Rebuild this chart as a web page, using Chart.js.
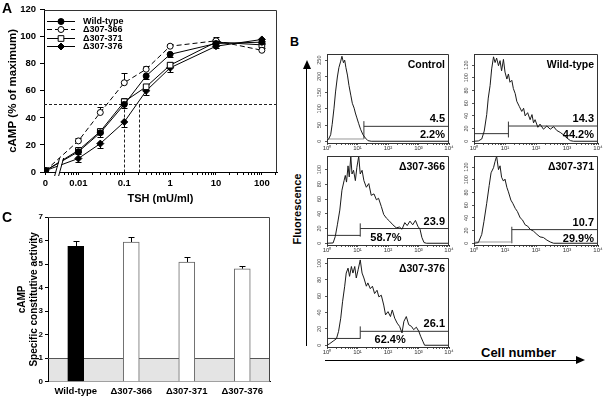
<!DOCTYPE html>
<html>
<head>
<meta charset="utf-8">
<script src="https://cdn.jsdelivr.net/npm/chart.js@4.4.1/dist/chart.umd.min.js"></script>
<style>
html,body{margin:0;padding:0;background:#fff;}
#fig{position:relative;width:603px;height:400px;overflow:hidden;font-family:"Liberation Sans",Arial,sans-serif;}
#fig canvas{position:absolute;}
.lbl{position:absolute;font-weight:bold;color:#000;white-space:nowrap;line-height:1;}
.ln{position:absolute;background:#000;}
</style>
</head>
<body>
<div id="fig">
  <canvas id="chartA" width="285" height="207" style="left:0;top:0"></canvas>
  <canvas id="hCtrl"></canvas>
  <canvas id="hWt"></canvas>
  <canvas id="h366"></canvas>
  <canvas id="h371"></canvas>
  <canvas id="h376"></canvas>

  <div class="lbl" style="left:2px;top:1px;font-size:14px">A</div>
  <div class="lbl" style="left:290px;top:36px;font-size:12.5px">B</div>

  <div class="ln" style="left:306px;top:68px;width:1px;height:278px"></div>
  <div style="position:absolute;left:302.5px;top:60px;width:0;height:0;border-left:4px solid transparent;border-right:4px solid transparent;border-bottom:9px solid #000"></div>
  <div class="lbl" style="left:296.5px;top:209px;font-size:11px;transform:translate(-50%,-50%) rotate(-90deg)">Fluorescence</div>

  <div class="ln" style="left:325px;top:360px;width:252px;height:1px"></div>
  <div style="position:absolute;left:576px;top:356px;width:0;height:0;border-top:4.5px solid transparent;border-bottom:4.5px solid transparent;border-left:9px solid #000"></div>
  <div class="lbl" style="left:481px;top:346px;font-size:13px">Cell number</div>

  <canvas id="chartC" width="285" height="193" style="left:0;top:207px;z-index:5"></canvas>
  <div class="lbl" style="left:2px;top:210px;font-size:14px;z-index:6">C</div>
</div>

<script>
// ---- Panel A: dose response ----
const tshDoses = [0, 0.01, 0.03, 0.1, 0.3, 1, 10, 100];
const wildType    = [1, 15, 29, 50, 71, 87, 95, 96];
const wildTypeErr = [0, 1.5, 3, 3, 2, 2, 1.5, 1.5];
const del366      = [1, 23, 44, 66, 76, 93, 97, 90];
const del366Err   = [0, 2.5, 4, 7, 2.5, 2, 2.5, 1.5];
const del371      = [1, 16, 30, 52, 63, 79, 96, 94];
const del371Err   = [0, 1.5, 2, 2.5, 2, 2, 1.5, 1.5];
const del376      = [1, 10, 21, 37, 60, 77, 93, 98];
const del376Err   = [0, 2.5, 3.5, 4, 3, 3, 1.5, 1.5];
const seriesNames = ['Wild-type', '\u0394307-366', '\u0394307-371', '\u0394307-376'];
const halfMax = 50;
const ec50Doses = [0.1, 0.21];
const doseTicks = [0, 0.01, 0.1, 1, 10, 100];
const doseTickLabels = ['0', '0.01', '0.1', '1', '10', '100'];

// ---- Panel C: constitutive activity ----
const cCategories = ['Wild-type', '\u0394307-366', '\u0394307-371', '\u0394307-376'];
const cActivity    = [5.75, 5.93, 5.08, 4.8];
const cActivityErr = [0.24, 0.22, 0.22, 0.1];
const basalLevel = 1;

// ---- Panel B: histograms (position in decades, counts) ----
const ctrlPos   = [0, 0.05, 0.12, 0.17, 0.23, 0.28, 0.34, 0.39, 0.45, 0.49, 0.54, 0.58, 0.62, 0.67, 0.72, 0.78, 0.83, 0.89, 0.93, 0.98, 1.04, 1.10, 1.18, 1.26, 1.34, 1.45, 4];
const ctrlCount = [4, 6, 20, 52, 102, 152, 198, 227, 247, 262, 242, 250, 227, 204, 172, 142, 117, 102, 87, 72, 54, 37, 20, 10, 2, 0, 0];

const wtPos   = [0, 0.14, 0.25, 0.33, 0.41, 0.46, 0.52, 0.57, 0.63, 0.68, 0.73, 0.79, 0.84, 0.89, 0.95, 1.00, 1.06, 1.11, 1.16, 1.22, 1.27, 1.33, 1.38, 1.46, 1.54, 1.60, 1.65, 1.73, 1.81, 1.87, 1.92, 1.97, 2.06, 2.13, 2.24, 2.35, 2.46, 2.57, 2.67, 2.78, 2.89, 3.00, 3.11, 3.21, 4];
const wtCount = [0, 0.5, 3.6, 16, 42, 68, 88, 114, 133, 124, 131, 119, 127, 111, 129, 109, 98, 106, 93, 96, 83, 75, 63, 55, 47, 52, 40, 45, 34, 42, 29, 34, 22, 27, 19, 24, 19, 23, 17, 14, 10, 5, 1, 0, 0];

const d366Pos   = [0, 0.2, 0.27, 0.34, 0.42, 0.49, 0.56, 0.60, 0.64, 0.69, 0.73, 0.78, 0.82, 0.87, 0.93, 0.98, 1.04, 1.09, 1.15, 1.21, 1.29, 1.37, 1.45, 1.54, 1.62, 1.69, 1.78, 1.86, 1.95, 2.05, 2.16, 2.27, 2.38, 2.46, 2.55, 2.63, 2.72, 2.81, 2.90, 2.98, 3.05, 3.11, 3.18, 3.26, 4];
const d366Count = [0, 0.4, 9, 25, 45, 72, 85, 92, 83, 105, 90, 118, 94, 99, 85, 103, 118, 94, 99, 85, 76, 81, 65, 67, 59, 61, 50, 39, 34, 30, 25, 21, 22, 19, 28, 24, 30, 25, 31, 23, 19, 8, 1, 0, 0];

const d371Pos   = [0, 0.14, 0.25, 0.32, 0.41, 0.49, 0.55, 0.63, 0.68, 0.73, 0.79, 0.84, 0.89, 0.95, 1.00, 1.06, 1.11, 1.19, 1.25, 1.33, 1.40, 1.49, 1.56, 1.65, 1.73, 1.81, 1.92, 2.03, 2.13, 2.24, 2.35, 2.46, 2.57, 4];
const d371Count = [0, 1, 14, 34, 63, 91, 111, 119, 129, 137, 116, 122, 104, 98, 101, 88, 81, 68, 63, 55, 50, 40, 37, 29, 27, 22, 19, 14, 10, 9, 5, 2, 0, 0];

const d376Pos   = [0, 0.09, 0.2, 0.31, 0.38, 0.45, 0.51, 0.58, 0.63, 0.69, 0.74, 0.80, 0.85, 0.91, 0.96, 1.02, 1.09, 1.15, 1.21, 1.29, 1.34, 1.42, 1.49, 1.56, 1.64, 1.70, 1.78, 1.86, 1.92, 2.00, 2.08, 2.14, 2.22, 2.30, 2.38, 2.46, 2.52, 2.60, 2.68, 2.77, 2.84, 2.93, 3.01, 3.07, 3.14, 3.20, 4];
const d376Count = [0, 2, 5, 8, 17, 33, 53, 72, 88, 94, 84, 96, 88, 96, 82, 92, 104, 88, 82, 72, 76, 69, 72, 63, 67, 59, 61, 49, 37, 41, 35, 43, 33, 27, 23, 15, 29, 35, 25, 23, 19, 22, 17, 11, 5, 0, 0];

const histTitles = ['Control', 'Wild-type', '\u0394307-366', '\u0394307-371', '\u0394307-376'];
const histMeans  = ['4.5', '14.3', '23.9', '10.7', '26.1'];
const histPcts   = ['2.2%', '44.2%', '58.7%', '29.9%', '62.4%'];
const histYMax   = [268, 137, 118, 137, 106];
const histYStep  = [50, 20, 20, 20, 20];
const gateStart  = [1.21, 1.11, 1.09, 1.22, 1.09];
const gateLevel  = [46, 24, 20, 21.5, 17];
const lowLevel   = [7, 12, 10.7, 2, 8.3];
const gateTickLo = [7, 6, 9, 0, 8];
const gateTickHi = [62, 31, 27, 26, 23];

Chart.defaults.font.family = '"Liberation Sans", Arial, sans-serif';
Chart.defaults.color = '#000';
Chart.defaults.animation = false;
Chart.defaults.plugins.legend.display = false;
Chart.defaults.plugins.tooltip.enabled = false;

const FONT = '"Liberation Sans", Arial, sans-serif';

// plugin factories (one instance per chart)
function makeFrame(color) {
  return {
    id: 'frame',
    afterDatasetsDraw(chart) {
      const {ctx, chartArea: a} = chart;
      ctx.save();
      ctx.strokeStyle = color; ctx.lineWidth = 1; ctx.setLineDash([]);
      ctx.beginPath();
      ctx.moveTo(a.left, Math.round(a.top) + 0.5);
      ctx.lineTo(Math.round(a.right) - 0.5, Math.round(a.top) + 0.5);
      ctx.lineTo(Math.round(a.right) - 0.5, a.bottom);
      ctx.stroke();
      ctx.restore();
    }
  };
}

function makeErrorBars() {
  return {
    id: 'errorBars',
    beforeDatasetsDraw(chart) {
      const {ctx} = chart;
      const ys = chart.scales.y;
      chart.data.datasets.forEach((ds, di) => {
        if (!ds.errors) return;
        const meta = chart.getDatasetMeta(di);
        ctx.save();
        ctx.strokeStyle = '#000'; ctx.lineWidth = 1; ctx.setLineDash([]);
        meta.data.forEach((el, i) => {
          const e = ds.errors[i];
          if (!e) return;
          const d = ds.data[i];
          const v = typeof d === 'object' ? d.y : d;
          const yEnd = Math.round(ys.getPixelForValue(v + ds.errDir * e)) + 0.5;
          const x = Math.round(el.x) + 0.5;
          ctx.beginPath();
          ctx.moveTo(x, el.y); ctx.lineTo(x, yEnd);
          ctx.moveTo(x - 3, yEnd); ctx.lineTo(x + 3, yEnd);
          ctx.stroke();
        });
        ctx.restore();
      });
    }
  };
}

// ---- Panel A ----
const zeroPos = -2.72;
const breakPos = -2.42;
const doseX = tshDoses.map(d => d === 0 ? zeroPos : Math.log10(d));
const majorX = doseTicks.map(d => d === 0 ? zeroPos : Math.log10(d));
const minorX = [];
for (let e = -3; e <= 2; e++) for (let k = 2; k <= 9; k++) {
  const v = Math.log10(k) + e;
  if (v > breakPos + 0.05 && v < 2.33) minorX.push(v);
}

function series(i, vals, errs, dir, style, radius, fill, dash) {
  return {
    label: seriesNames[i],
    data: vals.map((v, j) => ({x: doseX[j], y: v})),
    errors: errs, errDir: dir,
    borderColor: '#000', borderWidth: 1, borderDash: dash,
    pointStyle: style, pointRadius: radius, pointBackgroundColor: fill,
    pointBorderColor: '#000', pointBorderWidth: 1, tension: 0
  };
}

const refLinesPlugin = {
  id: 'refLines',
  beforeDatasetsDraw(chart) {
    const {ctx, chartArea: a, scales: {x, y}} = chart;
    const yh = Math.round(y.getPixelForValue(halfMax)) + 0.5;
    ctx.save();
    ctx.strokeStyle = '#222'; ctx.lineWidth = 1; ctx.setLineDash([3, 2]);
    ctx.beginPath(); ctx.moveTo(a.left, yh); ctx.lineTo(a.right, yh); ctx.stroke();
    ec50Doses.forEach(d => {
      const xp = Math.round(x.getPixelForValue(Math.log10(d))) + 0.5;
      ctx.beginPath(); ctx.moveTo(xp, yh); ctx.lineTo(xp, a.bottom); ctx.stroke();
    });
    ctx.restore();
  }
};

const breakPlugin = {
  id: 'axisBreak',
  afterDatasetsDraw(chart) {
    const {ctx, chartArea: a, scales: {x}} = chart;
    const bx = x.getPixelForValue(breakPos);
    const yb = a.bottom;
    ctx.save();
    ctx.fillStyle = '#fff';
    ctx.beginPath();
    ctx.moveTo(bx - 4, yb + 4); ctx.lineTo(bx - 1, yb + 4);
    ctx.lineTo(bx + 4, yb - 14); ctx.lineTo(bx + 1, yb - 14);
    ctx.closePath(); ctx.fill();
    ctx.strokeStyle = '#000'; ctx.lineWidth = 1;
    ctx.beginPath();
    ctx.moveTo(bx - 4.5, yb + 4); ctx.lineTo(bx + 0.5, yb - 14);
    ctx.moveTo(bx - 0.5, yb + 4); ctx.lineTo(bx + 4.5, yb - 14);
    ctx.stroke();
    ctx.restore();
  }
};

const insideLegend = {
  id: 'insideLegend',
  afterDraw(chart) {
    const {ctx, chartArea: a} = chart;
    chart.data.datasets.forEach((ds, i) => {
      const y = Math.round(a.top + 11 + i * 8.5) + 0.5;
      const x0 = a.left + 3;
      ctx.save();
      ctx.strokeStyle = '#000'; ctx.lineWidth = 1;
      ctx.setLineDash(ds.borderDash || []);
      ctx.beginPath(); ctx.moveTo(x0, y); ctx.lineTo(x0 + 28, y); ctx.stroke();
      ctx.setLineDash([]);
      ctx.fillStyle = ds.pointBackgroundColor;
      Chart.helpers.drawPoint(ctx, {pointStyle: ds.pointStyle, radius: ds.pointRadius, borderWidth: 1}, x0 + 14, y);
      ctx.fillStyle = '#000';
      ctx.font = 'bold 9px ' + FONT;
      ctx.textBaseline = 'middle';
      ctx.fillText(ds.label, x0 + 36, y);
      ctx.restore();
    });
  }
};

new Chart(document.getElementById('chartA'), {
  type: 'line',
  data: {
    datasets: [
      series(0, wildType, wildTypeErr, -1, 'circle', 3, '#000', []),
      series(1, del366, del366Err, 1, 'circle', 3, '#fff', [5, 3]),
      series(2, del371, del371Err, 1, 'rect', 4, '#fff', []),
      series(3, del376, del376Err, -1, 'rectRot', 3.5, '#000', [])
    ]
  },
  options: {
    responsive: false, devicePixelRatio: 1,
    layout: {padding: {top: 9, right: 8, left: 0, bottom: 0}},
    scales: {
      x: {
        type: 'linear', min: -2.75, max: 2.33,
        afterBuildTicks: s => { s.ticks = majorX.concat(minorX).sort((p, q) => p - q).map(v => ({value: v})); },
        ticks: {
          autoSkip: false, maxRotation: 0, padding: 3,
          font: {weight: 'bold', size: 9.5},
          callback: v => {
            const k = majorX.findIndex(m => Math.abs(m - v) < 1e-6);
            return k >= 0 ? doseTickLabels[k] : '';
          }
        },
        grid: {drawOnChartArea: false, tickLength: 3, color: '#000'},
        border: {color: '#000'},
        title: {display: true, text: 'TSH (mU/ml)', font: {weight: 'bold', size: 11}, padding: {top: 0, bottom: 1}},
        afterFit: s => { s.height = 35; }
      },
      y: {
        min: 0, max: 120,
        ticks: {stepSize: 20, padding: 4, font: {weight: 'bold', size: 9.5}},
        grid: {drawOnChartArea: false, tickLength: 4, color: '#000'},
        border: {color: '#000'},
        title: {display: true, text: 'cAMP (% of maximum)', font: {weight: 'bold', size: 11.5}, padding: {top: 6, bottom: 0}},
        afterFit: s => { s.width = 44; }
      }
    }
  },
  plugins: [refLinesPlugin, makeErrorBars(), breakPlugin, makeFrame('#333'), insideLegend]
});

// ---- Panel B ----
const sup = ['\u2070', '\u00b9', '\u00b2', '\u00b3', '\u2074'];
const histMinor = [];
for (let e = 0; e < 4; e++) for (let k = 2; k <= 9; k++) histMinor.push(Math.log10(k) + e);
const histMajor = [0, 1, 2, 3, 4];

const histText = {
  id: 'histText',
  afterDraw(chart, args, o) {
    const {ctx, chartArea: a, scales: {x, y}} = chart;
    ctx.save();
    ctx.strokeStyle = '#333'; ctx.lineWidth = 1;
    ctx.beginPath();
    ctx.moveTo(a.left, Math.round(a.top) + 0.5);
    ctx.lineTo(Math.round(a.right) - 0.5, Math.round(a.top) + 0.5);
    ctx.lineTo(Math.round(a.right) - 0.5, a.bottom);
    ctx.stroke();
    ctx.fillStyle = '#000';
    ctx.textBaseline = 'middle';
    ctx.textAlign = 'right';
    ctx.font = 'bold 10.5px ' + FONT;
    ctx.fillText(o.title, a.right - 4, a.top + 11);
    const gy = y.getPixelForValue(o.gate);
    ctx.font = 'bold 11px ' + FONT;
    ctx.fillText(o.mean, a.right - 4, gy - 7);
    if (o.pctAt == null) {
      ctx.fillText(o.pct, a.right - 4, gy + 9);
    } else {
      ctx.textAlign = 'center';
      ctx.fillText(o.pct, x.getPixelForValue(o.pctAt), gy + 9);
    }
    ctx.restore();
  }
};

const histBoxes = [
  {id: 'hCtrl', l: 327, t: 53, r: 449, b: 143, pos: ctrlPos, cnt: ctrlCount, lowColor: '#999', pctAt: null},
  {id: 'hWt', l: 474, t: 53, r: 598, b: 143, pos: wtPos, cnt: wtCount, lowColor: '#333', pctAt: null},
  {id: 'h366', l: 327, t: 155, r: 449, b: 245, pos: d366Pos, cnt: d366Count, lowColor: '#333', pctAt: 1.93},
  {id: 'h371', l: 474, t: 155, r: 598, b: 245, pos: d371Pos, cnt: d371Count, lowColor: '#999', pctAt: null},
  {id: 'h376', l: 327, t: 257, r: 449, b: 347, pos: d376Pos, cnt: d376Count, lowColor: '#333', pctAt: 2.07}
];

histBoxes.forEach((h, i) => {
  const cv = document.getElementById(h.id);
  const padR = 9;
  cv.width = (h.r - h.l) + 12 + padR;
  cv.height = (h.b - h.t) + 3 + 9;
  cv.style.left = (h.l - 12) + 'px';
  cv.style.top = (h.t - 3) + 'px';
  const flat = {pointRadius: 0, borderWidth: 1, tension: 0};
  new Chart(cv, {
    type: 'line',
    data: {
      datasets: [
        Object.assign({data: h.pos.map((p, j) => ({x: p, y: h.cnt[j]})), borderColor: '#1a1a1a'}, flat),
        Object.assign({data: [{x: 0, y: lowLevel[i]}, {x: gateStart[i], y: lowLevel[i]}], borderColor: h.lowColor}, flat),
        Object.assign({data: [{x: gateStart[i], y: gateTickLo[i]}, {x: gateStart[i], y: gateTickHi[i]}], borderColor: '#333'}, flat),
        Object.assign({data: [{x: gateStart[i], y: gateLevel[i]}, {x: 4, y: gateLevel[i]}], borderColor: '#333'}, flat)
      ]
    },
    options: {
      responsive: false, devicePixelRatio: 1,
      layout: {padding: {top: 3, right: padR, left: 0, bottom: 0}},
      plugins: {
        histText: {title: histTitles[i], mean: histMeans[i], pct: histPcts[i], gate: gateLevel[i], pctAt: h.pctAt}
      },
      scales: {
        x: {
          type: 'linear', min: 0, max: 4,
          afterBuildTicks: s => { s.ticks = histMajor.concat(histMinor).sort((p, q) => p - q).map(v => ({value: v})); },
          ticks: {autoSkip: false, maxRotation: 0, padding: 0, color: '#333', font: {size: 6},
            callback: v => Number.isInteger(v) ? '10' + sup[v] : ''},
          grid: {drawOnChartArea: false, tickLength: 2, color: '#555'},
          border: {color: '#333'},
          afterFit: s => { s.height = 9; }
        },
        y: {
          min: -histYMax[i] * 0.02, max: histYMax[i],
          afterBuildTicks: s => {
            const t = [];
            for (let v = 0; v <= histYMax[i]; v += histYStep[i]) t.push({value: v});
            s.ticks = t;
          },
          ticks: {autoSkip: false, minRotation: 90, maxRotation: 90, crossAlign: 'center', padding: 1, color: '#444', font: {size: 5.5}},
          grid: {drawOnChartArea: false, tickLength: 2, color: '#555'},
          border: {color: '#333'},
          afterFit: s => { s.width = 12; }
        }
      }
    },
    plugins: [histText]
  });
});

// ---- Panel C (created last) ----
const basalBand = {
  id: 'basalBand',
  beforeDatasetsDraw(chart) {
    const {ctx, chartArea: a, scales: {y}} = chart;
    const y0 = y.getPixelForValue(0), y1 = Math.round(y.getPixelForValue(basalLevel)) + 0.5;
    ctx.save();
    ctx.fillStyle = '#e4e4e4';
    ctx.fillRect(a.left + 1, y1, a.right - a.left - 1, y0 - y1);
    ctx.strokeStyle = '#555'; ctx.lineWidth = 1;
    ctx.beginPath(); ctx.moveTo(a.left, y1); ctx.lineTo(a.right, y1); ctx.stroke();
    ctx.restore();
  }
};

new Chart(document.getElementById('chartC'), {
  type: 'bar',
  data: {
    labels: cCategories,
    datasets: [{
      data: cActivity,
      errors: cActivityErr, errDir: 1,
      backgroundColor: ['#000', '#fff', '#fff', '#fff'],
      borderColor: ['#000', '#666', '#666', '#666'],
      borderWidth: 1, barThickness: 16
    }]
  },
  options: {
    responsive: false, devicePixelRatio: 1,
    layout: {padding: {top: 10, right: 15, left: 0, bottom: 0}},
    scales: {
      x: {
        offset: true,
        ticks: {autoSkip: false, maxRotation: 0, padding: 4, font: {weight: 'bold', size: 9.5}},
        grid: {drawOnChartArea: false, drawTicks: false},
        border: {color: '#000'},
        afterFit: s => { s.height = 18.3; }
      },
      y: {
        min: 0, max: 7,
        ticks: {stepSize: 1, padding: 2, font: {weight: 'bold', size: 8}},
        grid: {drawOnChartArea: false, tickLength: 3, color: '#000'},
        border: {color: '#000'},
        title: {display: true, text: ['cAMP', 'Specific constitutive activity'],
          font: {weight: 'bold', size: 10, lineHeight: 1.2}, padding: {top: 16, bottom: 0}},
        afterFit: s => { s.width = 48; }
      }
    }
  },
  plugins: [basalBand, makeErrorBars(), makeFrame('#444')]
});
</script>
</body>
</html>
